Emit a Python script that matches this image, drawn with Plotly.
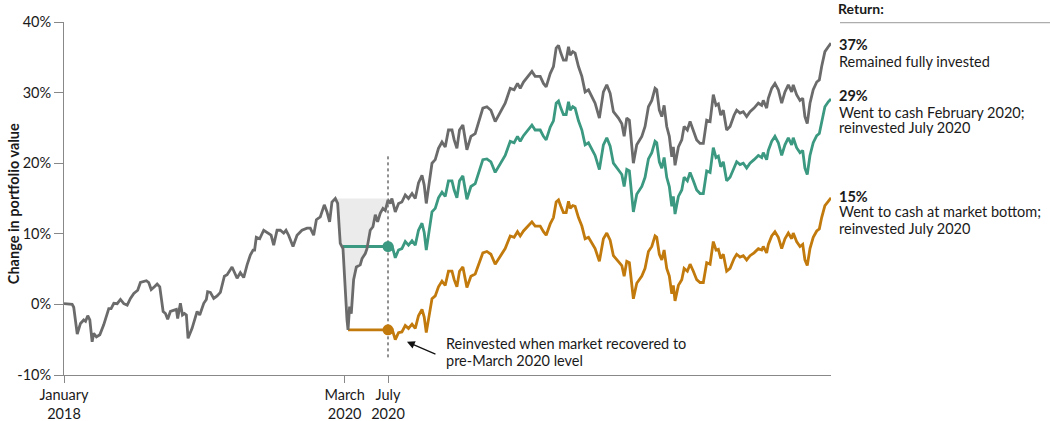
import pandas as pd
import plotly.graph_objects as go

# ---------------- data (decimal years, % change) ----------------
grey_years = [
    2018.000, 2018.063, 2018.075, 2018.102, 2018.127, 2018.152, 2018.166, 2018.183, 2018.199, 2018.217,
    2018.229, 2018.250, 2018.276, 2018.306, 2018.345, 2018.363, 2018.384, 2018.410, 2018.435, 2018.461,
    2018.487, 2018.512, 2018.538, 2018.568, 2018.589, 2018.615, 2018.635, 2018.653, 2018.672, 2018.697,
    2018.718, 2018.738, 2018.764, 2018.782, 2018.799, 2018.820, 2018.846, 2018.866, 2018.876, 2018.897,
    2018.913, 2018.928, 2018.943, 2018.956, 2018.987, 2019.026, 2019.046, 2019.077, 2019.097, 2019.107,
    2019.128, 2019.154, 2019.180, 2019.205, 2019.236, 2019.257, 2019.295, 2019.313, 2019.334, 2019.359,
    2019.385, 2019.411, 2019.436, 2019.457, 2019.469, 2019.482, 2019.508, 2019.539, 2019.577, 2019.596,
    2019.616, 2019.642, 2019.667, 2019.693, 2019.711, 2019.731, 2019.765, 2019.796, 2019.834, 2019.873,
    2019.898, 2019.924, 2019.945, 2019.975, 2020.006, 2020.027, 2020.047, 2020.065, 2020.091, 2020.109,
    2020.129, 2020.150, 2020.181, 2020.189, 2020.201, 2020.214, 2020.232, 2020.253, 2020.283, 2020.297,
    2020.322, 2020.335, 2020.360, 2020.381, 2020.399, 2020.417, 2020.437, 2020.458, 2020.476, 2020.497,
    2020.514, 2020.527, 2020.553, 2020.578, 2020.604, 2020.630, 2020.655, 2020.682, 2020.707, 2020.732,
    2020.759, 2020.776, 2020.792, 2020.809, 2020.836, 2020.861, 2020.886, 2020.913, 2020.938, 2020.963,
    2020.990, 2021.007, 2021.028, 2021.048, 2021.074, 2021.105, 2021.136, 2021.169, 2021.202, 2021.228,
    2021.259, 2021.290, 2021.323, 2021.356, 2021.400, 2021.439, 2021.469, 2021.495, 2021.516, 2021.541,
    2021.572, 2021.606, 2021.631, 2021.670, 2021.695, 2021.716, 2021.747, 2021.772, 2021.793, 2021.811,
    2021.829, 2021.849, 2021.870, 2021.888, 2021.901, 2021.921, 2021.939, 2021.965, 2021.991, 2022.016,
    2022.042, 2022.068, 2022.093, 2022.126, 2022.157, 2022.183, 2022.209, 2022.234, 2022.273, 2022.299,
    2022.317, 2022.337, 2022.357, 2022.388, 2022.414, 2022.453, 2022.478, 2022.504, 2022.530, 2022.555,
    2022.568, 2022.588, 2022.607, 2022.625, 2022.645, 2022.665, 2022.684, 2022.696, 2022.709, 2022.735,
    2022.761, 2022.779, 2022.804, 2022.825, 2022.850, 2022.876, 2022.902, 2022.927, 2022.953, 2022.979,
    2023.004, 2023.025, 2023.043, 2023.061, 2023.081, 2023.107, 2023.133, 2023.164, 2023.184, 2023.210,
    2023.235, 2023.261, 2023.287, 2023.318, 2023.351, 2023.377, 2023.389, 2023.415, 2023.428, 2023.454,
    2023.479, 2023.505, 2023.531, 2023.556, 2023.582, 2023.608, 2023.620, 2023.646, 2023.672, 2023.693,
    2023.710, 2023.728, 2023.749, 2023.774, 2023.801, 2023.821, 2023.839, 2023.864, 2023.890, 2023.911,
]

fully_invested = [
    0.1, 0.0, -0.4, -4.2, -2.7, -2.2, -2.4, -1.6, -2.2, -5.3,
    -4.1, -4.6, -4.3, -2.9, -0.6, -0.6, 0.15, 0.1, 0.7, 0.1,
    -0.1, 0.85, 1.55, 2.0, 3.1, 3.2, 3.35, 3.1, 2.1, 2.5,
    2.9, 2.5, -1.0, -1.3, -2.1, -1.0, -0.8, -0.7, -2.0, 0.15,
    -1.5, -1.3, -1.5, -4.8, -3.4, -1.0, -1.5, 0.15, 0.7, 1.8,
    1.7, 0.85, 1.2, 1.7, 4.0, 4.2, 5.3, 4.6, 3.7, 4.5,
    3.8, 5.6, 7.0, 7.7, 7.7, 9.5, 9.3, 10.5, 10.1, 9.8,
    8.4, 10.5, 10.5, 10.1, 10.5, 9.8, 8.2, 9.8, 10.5, 10.8,
    10.8, 9.8, 12.0, 12.4, 14.1, 13.1, 11.7, 14.5, 15.0, 14.3,
    8.65, 7.9, -2.2, -3.6, -0.3, -1.3, 3.5, 5.3, 5.6, 6.5,
    7.2, 7.9, 10.5, 11.0, 12.7, 11.7, 12.9, 13.6, 13.3, 14.8,
    14.3, 15.0, 13.1, 14.3, 14.5, 15.5, 15.0, 15.7, 15.0, 17.2,
    18.3, 16.9, 14.3, 16.4, 20.0, 20.5, 22.1, 23.0, 22.3, 24.7,
    24.7, 23.3, 22.1, 24.7, 25.4, 21.9, 23.8, 24.2, 26.1, 27.8,
    28.0, 27.5, 25.9, 27.1, 28.5, 30.6, 30.4, 31.3, 30.6, 31.5,
    32.2, 33.0, 32.3, 32.3, 31.3, 30.8, 32.7, 33.7, 36.3, 36.7,
    35.6, 34.6, 34.6, 36.5, 35.3, 35.8, 35.6, 33.7, 32.3, 30.1,
    30.4, 29.4, 28.5, 26.4, 30.1, 31.1, 29.9, 27.3, 26.4, 25.6,
    23.8, 26.4, 26.1, 20.0, 22.6, 23.8, 25.2, 28.0, 28.9, 30.6,
    30.4, 27.5, 26.6, 28.2, 25.2, 23.8, 20.9, 22.3, 19.7, 22.3,
    23.3, 25.2, 24.7, 25.9, 24.7, 23.3, 22.8, 22.8, 26.1, 25.9,
    29.7, 28.2, 28.4, 26.8, 27.5, 24.7, 25.2, 26.8, 27.5, 27.1,
    27.3, 26.6, 27.3, 27.8, 28.5, 28.2, 28.9, 27.8, 29.2, 30.6,
    31.3, 30.4, 28.5, 30.1, 31.1, 30.1, 31.1, 29.7, 28.9, 29.2,
    26.6, 25.6, 28.5, 30.4, 31.5, 31.8, 33.7, 35.8, 36.5, 37.0,
]

# exit to cash points
cash_feb_year = 2020.150
cash_bottom_year = 2020.189
reinvest_year = 2020.497
pre_march_level = 15.0

# values from the exit point, then reinvestment (July 2020) onward
cash_feb_values = [
    8.2, 8.2,
    7.7, 8.4, 6.6, 7.7, 7.9, 8.9, 8.4, 9.0, 8.4, 10.5,
    11.5, 10.2, 7.7, 9.7, 13.1, 13.6, 15.1, 15.9, 15.3, 17.5,
    17.5, 16.2, 15.1, 17.5, 18.2, 14.9, 16.7, 17.1, 18.9, 20.5,
    20.6, 20.2, 18.7, 19.8, 21.1, 23.1, 22.9, 23.8, 23.1, 23.9,
    24.6, 25.4, 24.7, 24.7, 23.8, 23.3, 25.1, 26.0, 28.5, 28.8,
    27.8, 26.9, 26.9, 28.7, 27.5, 28.0, 27.8, 26.0, 24.7, 22.6,
    22.9, 22.0, 21.1, 19.1, 22.6, 23.6, 22.4, 20.0, 19.1, 18.4,
    16.7, 19.1, 18.9, 13.1, 15.6, 16.7, 18.0, 20.6, 21.5, 23.1,
    22.9, 20.2, 19.3, 20.8, 18.0, 16.7, 13.9, 15.3, 12.8, 15.3,
    16.2, 18.0, 17.5, 18.7, 17.5, 16.2, 15.7, 15.7, 18.9, 18.7,
    22.2, 20.8, 21.0, 19.5, 20.2, 17.5, 18.0, 19.5, 20.2, 19.8,
    20.0, 19.3, 20.0, 20.5, 21.1, 20.8, 21.5, 20.5, 21.8, 23.1,
    23.8, 22.9, 21.1, 22.6, 23.6, 22.6, 23.6, 22.2, 21.5, 21.8,
    19.3, 18.4, 21.1, 22.9, 23.9, 24.2, 26.0, 28.0, 28.7, 29.1,
]

cash_bottom_values = [
    -3.6, -3.6,
    -4.0, -3.4, -5.0, -4.0, -3.9, -3.0, -3.4, -2.8, -3.4, -1.6,
    -0.7, -1.8, -4.0, -2.3, 0.8, 1.2, 2.5, 3.3, 2.7, 4.7,
    4.7, 3.5, 2.5, 4.7, 5.3, 2.4, 4.0, 4.3, 5.9, 7.3,
    7.5, 7.1, 5.7, 6.7, 7.9, 9.7, 9.5, 10.3, 9.7, 10.4,
    11.0, 11.7, 11.1, 11.1, 10.3, 9.8, 11.4, 12.3, 14.5, 14.8,
    13.9, 13.0, 13.0, 14.6, 13.6, 14.0, 13.9, 12.3, 11.1, 9.3,
    9.5, 8.7, 7.9, 6.1, 9.3, 10.1, 9.1, 6.9, 6.1, 5.5,
    4.0, 6.1, 5.9, 0.8, 3.0, 4.0, 5.1, 7.5, 8.2, 9.7,
    9.5, 7.1, 6.3, 7.7, 5.1, 4.0, 1.5, 2.7, 0.5, 2.7,
    3.5, 5.1, 4.7, 5.7, 4.7, 3.5, 3.1, 3.1, 5.9, 5.7,
    8.9, 7.7, 7.8, 6.5, 7.1, 4.7, 5.1, 6.5, 7.1, 6.7,
    6.9, 6.3, 6.9, 7.3, 7.9, 7.7, 8.2, 7.3, 8.5, 9.7,
    10.3, 9.5, 7.9, 9.3, 10.1, 9.3, 10.1, 8.9, 8.2, 8.5,
    6.3, 5.5, 7.9, 9.5, 10.4, 10.7, 12.3, 14.0, 14.6, 15.1,
]

y_ticks = [-10, 0, 10, 20, 30, 40]
y_tick_labels = ["-10%", "0%", "10%", "20%", "30%", "40%"]
x_ticks = ["2018-01-01", "2020-03-01", "2020-07-01", "2023-12-01"]
x_tick_labels = ["January<br>2018", "March<br>2020", "July<br>2020", "December<br>2023"]

# right-hand return block: (text, bold, paper y centre)
return_lines = [
    ("37%", True, 0.935),
    ("Remained fully invested", False, 0.8895),
    ("29%", True, 0.793),
    ("Went to cash February 2020;", False, 0.745),
    ("reinvested July 2020", False, 0.700),
    ("15%", True, 0.507),
    ("Went to cash at market bottom;", False, 0.462),
    ("reinvested July 2020", False, 0.416),
]
note_lines = [("Reinvested when market recovered to", 0.088),
              ("pre-March 2020 level", 0.040)]

# ---------------- helpers ----------------
ORIGIN = pd.Timestamp("2018-01-01")


def to_dates(years):
    return [ORIGIN + pd.Timedelta(days=(y - 2018.0) * 365.25) for y in years]


grey_dates = to_dates(grey_years)
i_reinvest = grey_years.index(reinvest_year)
i_shade = grey_years.index(2020.091)

feb_dates = to_dates([cash_feb_year]) + grey_dates[i_reinvest:]
bottom_dates = to_dates([cash_bottom_year]) + grey_dates[i_reinvest:]

GREY = "#6b6b6b"
GREEN = "#3a9980"
ORANGE = "#c27a0c"
TEXT = "#1a1a1a"
FONT = "Lato"
XL = 1.0078  # left edge of the right-hand text block (paper units)

fig = go.Figure()

# shaded drawdown region
shade_x = grey_dates[i_shade:i_reinvest + 1] + [grey_dates[i_reinvest], grey_dates[i_shade]]
shade_y = fully_invested[i_shade:i_reinvest + 1] + [pre_march_level, pre_march_level]
fig.add_trace(go.Scatter(x=shade_x, y=shade_y, fill="toself", fillcolor="#ebebeb",
                         line=dict(width=0), mode="lines", hoverinfo="skip", showlegend=False))

fig.add_trace(go.Scatter(x=bottom_dates, y=cash_bottom_values, mode="lines",
                         line=dict(color=ORANGE, width=2.8), showlegend=False))
fig.add_trace(go.Scatter(x=feb_dates, y=cash_feb_values, mode="lines",
                         line=dict(color=GREEN, width=2.8), showlegend=False))
fig.add_trace(go.Scatter(x=grey_dates, y=fully_invested, mode="lines",
                         line=dict(color=GREY, width=2.8), showlegend=False))

# reinvestment markers
fig.add_trace(go.Scatter(x=[feb_dates[1], bottom_dates[1]],
                         y=[cash_feb_values[1], cash_bottom_values[1]],
                         mode="markers", marker=dict(size=11, color=[GREEN, ORANGE]),
                         showlegend=False))

# dotted vertical line at July 2020
fig.add_shape(type="line", xref="x", yref="y", x0=grey_dates[i_reinvest], x1=grey_dates[i_reinvest],
              y0=-7.5, y1=21, line=dict(color="#222", width=1, dash="dot"), layer="below")

# return: header + rule
fig.add_annotation(xref="paper", yref="paper", x=XL, y=1.0375, xanchor="left", yanchor="middle",
                   borderpad=0, text="<b>Return:</b>", showarrow=False,
                   font=dict(family=FONT, size=14, color=TEXT))
fig.add_shape(type="line", xref="paper", yref="paper", x0=1.0117, x1=1.29, y0=0.998, y1=0.998,
              line=dict(color="#999", width=1))

for txt, bold, yc in return_lines:
    fig.add_annotation(xref="paper", yref="paper", x=XL, y=yc, xanchor="left", yanchor="middle",
                       text=f"<b>{txt}</b>" if bold else txt, showarrow=False,
                       font=dict(family=FONT, size=14.5, color=TEXT))

# arrow + note
arrow_date = to_dates([2020.643])[0]
fig.add_annotation(x=arrow_date, y=-5.3, ax=30, ay=13, text="", showarrow=True,
                   arrowhead=2, arrowsize=1.3, arrowwidth=1.2, arrowcolor="#111", standoff=0)
for txt, yc in note_lines:
    fig.add_annotation(xref="paper", yref="paper", x=0.495, y=yc, xanchor="left", yanchor="middle",
                       text=txt, showarrow=False, font=dict(family=FONT, size=14.5, color=TEXT))

# y-axis title
fig.add_annotation(xref="paper", yref="paper", x=-0.066, y=0.485, xanchor="center", yanchor="middle",
                   textangle=-90, text="<b>Change in portfolio value</b>", showarrow=False,
                   font=dict(family=FONT, size=14.5, color=TEXT))

fig.update_layout(
    width=1050, height=421,
    margin=dict(l=64, r=219, t=22, b=46, autoexpand=False),
    paper_bgcolor="white", plot_bgcolor="white",
    font=dict(family=FONT, size=14.5, color=TEXT),
    xaxis=dict(type="date", range=[ORIGIN, grey_dates[-1]], tickvals=x_ticks, ticktext=x_tick_labels,
               showgrid=False, zeroline=False, showline=True, linecolor="#888", linewidth=1,
               ticks="outside", ticklen=7, tickcolor="#888", tickfont=dict(size=14.5)),
    yaxis=dict(range=[-10, 40], tickvals=y_ticks, ticktext=y_tick_labels, showgrid=False,
               zeroline=False, showline=True, linecolor="#888", linewidth=1,
               ticks="outside", ticklen=9, tickcolor="#888", tickfont=dict(size=14.5)),
)

# remove the default 8px page margin so the figure fills the window exactly
fig.write_html("out.html", config={"displayModeBar": False},
               post_script="document.body.style.margin='0px';")
